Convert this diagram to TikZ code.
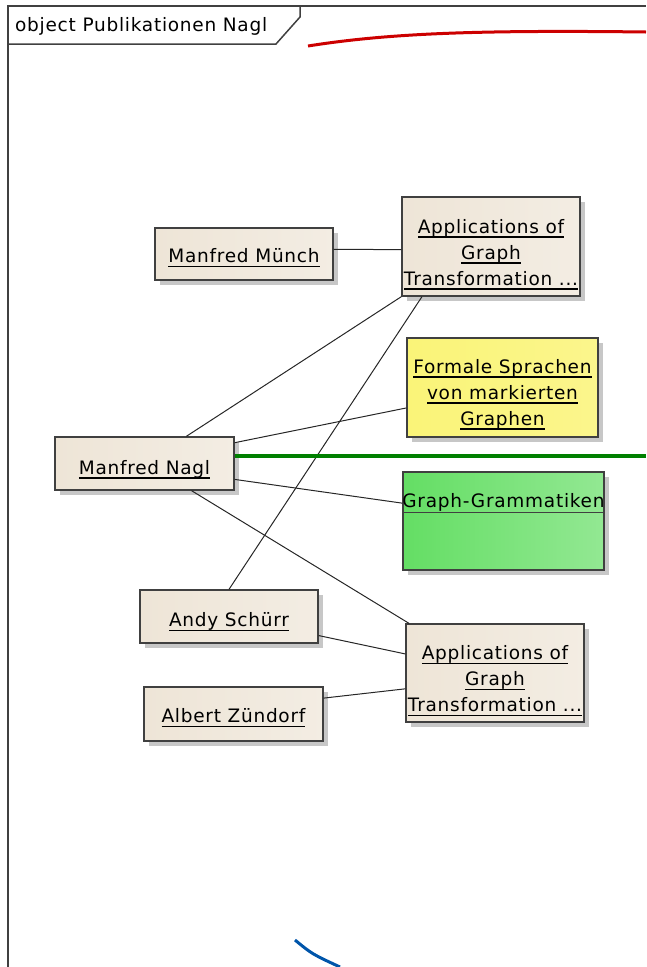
\documentclass[tikz,border=0pt]{standalone}
\usepackage{fontspec}
\setmainfont[LetterSpace=4]{DejaVu Sans}
\usepackage{tikz}
\usetikzlibrary{shadows,calc}
\definecolor{rahmengrau}{RGB}{64,64,64}
\definecolor{objback}{RGB}{238,229,215}
\definecolor{sprachgelb}{RGB}{250,244,120}
\definecolor{grammgruen}{RGB}{100,222,100}
\definecolor{bogenrot}{RGB}{204,0,0}
\definecolor{liniengruen}{RGB}{0,128,0}
\definecolor{bogenblau}{RGB}{0,85,170}

\newcommand{\ulx}[1]{\leavevmode\setbox0\hbox{#1}\rlap{\copy0}\raisebox{-4.5pt}{\rule{\wd0}{1.5pt}}}

\tikzset{
  objekt/.style={draw=rahmengrau,line width=1.3pt,left color=#1,right color=#1!70!white,
    minimum width=178pt,minimum height=52pt,
    drop shadow={shadow xshift=5pt,shadow yshift=-5pt,fill=black!22,opacity=1}},
  objekt/.default=objback,
  objtext/.style={align=center,inner sep=0pt,font=\fontsize{18.5}{26}\selectfont},
  verbindung/.style={draw=black!85,line width=1pt}
}

\begin{document}
\begin{tikzpicture}[x=1pt,y=-1pt]
\useasboundingbox (0,0) rectangle (646,967);

% Rahmen
\draw[rahmengrau,line width=2pt] (8,967) -- (8,6) -- (646,6);
\draw[rahmengrau,line width=1.5pt] (8,44) -- (276,44) -- (300,17) -- (300,6);
\node[objtext,anchor=base west] (titel) at (15,31) {object Publikationen Nagl};

\node[objekt] (muench) at (244,254) {};
\node[objtext] (muench-t) at ($(muench)+(0,4)$) {\ulx{Manfred Münch}};

\node[objekt,minimum height=99pt] (appA) at (491,246.5) {};
\node[objtext] (appA-t) at ($(appA)+(0,8)$) {\ulx{Applications of}\\\ulx{Graph}\\\ulx{Transformation ...}};

\node[objekt=sprachgelb,right color=sprachgelb!85!white,minimum width=191pt,minimum height=99pt] (formal) at (502.5,387.5) {};
\node[objtext] (formal-t) at ($(formal)+(0,7)$) {\ulx{Formale Sprachen}\\\ulx{von markierten}\\\ulx{Graphen}};

\node[objekt,minimum width=179pt,minimum height=53pt] (nagl) at (144.5,463.5) {};
\node[objtext] (nagl-t) at ($(nagl)+(0,6)$) {\ulx{Manfred Nagl}};

\node[objekt=grammgruen,minimum width=201pt,minimum height=98pt] (gg) at (503.5,521) {};
\draw[rahmengrau,line width=1.3pt] ($(gg.north west)+(0,41)$) -- ($(gg.north east)+(0,41)$);
\node[objtext] (gg-t) at ($(gg.north)+(0,31)$) {Graph-Grammatiken};

\node[objekt,minimum height=53pt] (schuerr) at (229,616.5) {};
\node[objtext] (schuerr-t) at ($(schuerr)+(0,5.5)$) {\ulx{Andy Schürr}};

\node[objekt,minimum height=98pt] (appB) at (495,673) {};
\node[objtext] (appB-t) at ($(appB)+(0,8)$) {\ulx{Applications of}\\\ulx{Graph}\\\ulx{Transformation ...}};

\node[objekt,minimum width=179pt,minimum height=54pt] (zuendorf) at (233.5,714) {};
\node[objtext] (zuendorf-t) at ($(zuendorf)+(0,4)$) {\ulx{Albert Zündorf}};

\draw[verbindung] (muench.3) -- (appA.182);
\draw[verbindung] (nagl.33) -- (appA.south west);
\draw[verbindung] (schuerr.north) -- (appA.216);
\draw[verbindung] (nagl.13) -- (formal.192);
\draw[verbindung] (nagl.-10) -- (gg.170);
\draw[verbindung] (nagl.-30) -- (appB.150);
\draw[verbindung] (schuerr.-12) -- (appB.168);
\draw[verbindung] (zuendorf.10) -- (appB.190);

\coordinate (rand) at (646,0);
\draw[liniengruen,line width=4pt] (nagl.5) -- (nagl.5 -| rand);
\draw[bogenrot,line width=3pt] (308,46) .. controls (390,33) and (480,30) .. (646,32);
\draw[bogenblau,line width=3pt] (295,940) .. controls (312,954) .. (340,967);
\end{tikzpicture}
\end{document}
